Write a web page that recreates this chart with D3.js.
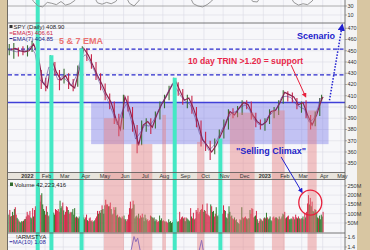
<!DOCTYPE html>
<html>
<head>
<meta charset="utf-8">
<title>SPY daily</title>
<script src="https://cdn.jsdelivr.net/npm/d3@7/dist/d3.min.js"></script>
<style>
  html, body { margin: 0; padding: 0; background: #fff; }
  svg { display: block; font-family: "Liberation Sans", Arial, sans-serif; }
</style>
</head>
<body>
<svg id="chart" width="370" height="250"></svg>
<script>
'use strict';

// ---------- data ----------

// weekly SPY points, one per Friday from 2021-12-10, the last one is 2023-04-04
var closes = [451, 452, 450, 449,  450, 456, 446, 422,  417, 442, 431, 424,  428, 420, 417, 433,
  452, 446, 437, 428, 420,  411, 404, 390, 380,  409, 399, 384, 366,  384, 387, 382, 393, 402,
  409, 417, 424, 415,  406, 408, 399, 387, 371,  366, 360, 366, 375,  384, 396, 393, 399,
  404, 402, 393, 387, 384,  387, 396, 397, 404,  413, 411, 409, 402,  404, 393, 384, 393, 406,  409];
var highs = [456, 457, 453, 454,  455, 459, 455, 433,  426, 446, 440, 433,  434, 430, 425, 437,
  454, 452, 447, 440, 430,  421, 412, 405, 394,  411, 410, 400, 384,  388, 390, 390, 396, 405,
  411, 419, 426, 422,  416, 411, 410, 400, 388,  378, 370, 372, 380,  389, 398, 399, 401,
  406, 406, 405, 395, 389,  390, 398, 400, 406,  415, 414, 413, 408,  405, 406, 393, 396, 408,  411];
var lows = [446, 443, 445, 446,  445, 449, 440, 416,  414, 425, 428, 415,  421, 416, 414, 418,
  432, 441, 434, 424, 415,  406, 398, 385, 374,  380, 396, 378, 359,  366, 378, 376, 381, 389,
  399, 406, 415, 410,  402, 399, 394, 382, 365,  361, 353, 358, 364,  372, 380, 390, 391,
  393, 398, 389, 382, 380,  379, 385, 390, 393,  403, 405, 404, 398,  395, 390, 380, 383, 392,  405];

// top indicator strip, same weeks (only the dips below ~43 show)
var topInd = [55, 55, 55, 55, 55,  40, 30, 28, 38,  36, 33, 40, 32, 35, 42,  55, 55, 55, 55,
  37, 34, 38, 35, 40,  55, 55,  36, 30, 41,  55, 55, 55, 55, 55, 55, 55, 55, 55, 55, 55,
  35, 30, 28, 33, 41,  55, 55, 55, 55, 55, 55, 55, 55,  40, 39,  55, 55, 55, 55, 55, 55, 55,
  38, 32, 35, 33, 41,  55, 55, 55];

// daily volume in millions, Mon..Fri from 2021-12-08 (negative = down day)
var volume = [
  95, -120, 85,
  -88, 110, -92, 125, -135,   -95, 78, 70, -62, 56,   52, 60, -58, 62, -70,
  72, -85, -110, -95, -90,   -115, 80, 75, -130, 85,   -120, -140, -130, -160, -205,
  240, -165, -200, 210, 150,   125, 115, -95, -140, 110,   -90, 85, 95, -140, -150,
  -110, 105, 95, -125, -120,   -115, -125, -110, 170, 130,   140, -160, 118, -95, -110,
  -140, -135, 120, -100, -110,   -105, 110, 125, 95, 130,   -80, 85, -80, 75, 85,
  80, 95, -75, -95, 80,   70, -80, -95, 65, -60,   -75, -80, 60, -65, -55,
  60, 65, -75, -85, -115,   100, -115, 105, 120, -145,   125, 100, 145, -175, -150,
  -150, 140, -140, -160, 125,   -95, 100, -135, -120, 135,   90, -95, 80, 85, 80,
  75, -85, -75, 90, -70,   70, -60, -70, -95, -130,   -165, -125, 130, -170, 150,
  75, 85, 90, -80, 100,   -75, -90, 80, -100, 80,   60, 95, 75, 65, -70,
  -60, -65, -90, 85, 80,   -75, 80, 60, 70, -65,   -55, -60, 90, 65, 75,
  -60, -65, 60, 55, -60,   -55, -50, 70, 55, 60,   50, 55, -65, 50, -70,
  -70, -60, 55, 60, -110,   -70, -80, -85, 75, -80,   60, -80, 75, 70, 65,
  60, -130, 85, -75, -105,   70, -75, -120, -110, -130,   -100, -110, 120, -125, -150,
  110, 120, -115, -100, -155,   -95, -90, -85, 150, -140,   110, 115, -85, -100, 135,
  90, 85, -95, -80, 100,   -85, -100, -145, -120, 115,   80, 75, -100, 140, 110,
  -85, 90, -75, -70, 80,   -65, 70, 55, 50, 45,   -70, 65, 135, -80, 75,
  -80, -85, 75, 70, -75,   75, 120, -100, -130, -125,   -80, 85, 90, -115, 70,
  50, -60, -75, 70, -65,
  60, -75, 80, -75, 105,   -80, 70, 75, 85, 65,   60, -80, -85, -75, 80,
  80, -75, 70, 85, 70,   -75, 85, 100, 95, -110,   -75, 80, -85, -90, 70,
  70, 75, 70, -85, -80,   70, -95, -80, 75, -85,   75, -70, -75, 75, 85,
  -70, -105, 80, -110, -155,   -200, 150, -185, 140, -165,   115, 110, -125, 120, 105,
  80, -75, 90, 70, 95,
  85, -110
];

// 10 day TRIN line
var trinDates = ["2021-12-10", "2022-01-21", "2022-02-25", "2022-03-11", "2022-04-29", "2022-05-13",
  "2022-06-10", "2022-06-14", "2022-06-17", "2022-06-21", "2022-06-23", "2022-06-28", "2022-07-08",
  "2022-08-19", "2022-09-16", "2022-09-26", "2022-09-29", "2022-10-03", "2022-10-14", "2022-11-11",
  "2022-12-16", "2023-01-13", "2023-03-10", "2023-03-17", "2023-04-04"];
var trinVals = [1.0, 1.15, 1.1, 1.2, 1.1, 1.25, 1.22, 1.35, 1.62, 1.51, 1.59, 1.3, 1.1,
  0.9, 1.1, 1.3, 1.54, 1.3, 1.25, 0.95, 1.2, 0.95, 1.2, 1.3, 1.08];

// shaded periods: start, end, top price
var pinkStart = ["2022-05-03", "2022-06-14", "2022-08-01", "2022-09-22", "2022-11-11", "2023-01-16", "2023-03-10"];
var pinkEnd   = ["2022-06-02", "2022-07-15", "2022-08-05", "2022-10-04", "2022-12-20", "2023-02-03", "2023-03-24"];
var pinkTop   = [390, 367, 393, 369, 395, 397, 397];

// TRIN > 1.20 days, and the price where each marker starts (null = full height)
var cyanDays = ["2022-01-20", "2022-02-10", "2022-03-29", "2022-08-18", "2022-10-27"];
var cyanTop  = [null, 446, 452, 426, 372];

var supportLevel = 404;
var dashedLevels = [451.5, 428.5];
var boxFrom = "2022-04-13", boxTo = "2023-04-12", boxLow = 367;

var priceTicks = [350, 360, 370, 380, 390, 400, 410, 420, 430, 440, 450, 460, 470];
var volTicks = [50, 100, 150, 200, 250];
var topTicks = [10, 30];
var trinTicks = [1.4, 1.6];

// ---------- layout ----------
var plotL = 8, plotR = 345;
var topP = [0, 23], mainP = [23, 172.5], bandP = [172.5, 179.5], volP = [179.5, 233], trinP = [233, 250];

var parse = d3.timeParse("%Y-%m-%d");
var svg = d3.select("#chart");

// trading-day axis: count weekdays from a Monday
var origin = new Date(2021, 11, 6);
function bday(d) {
    var n = d3.timeDay.count(origin, d);
    return Math.floor(n / 7) * 5 + Math.min(n % 7, 5);
}
var xIdx = d3.scaleLinear()
    .domain([bday(new Date(2021, 11, 7)), bday(new Date(2023, 4, 7))])
    .range([plotL, plotR]);
function x(d) { return xIdx(bday(typeof d === 'string' ? parse(d) : d)); }

var y = d3.scaleLinear().domain([350, 470]).range([163.25, 28.25]);
var yVol = d3.scaleLinear().domain([0, 250]).range([232.3, 185.8]);
var yTop = d3.scaleLinear().domain([10, 30]).range([15, 6]);
var yTrin = d3.scaleLinear().domain([1.4, 1.6]).range([247, 237.5]);

var weekDates = d3.timeDay.range(parse("2021-12-10"), parse("2023-04-01"), 7);
weekDates.push(parse("2023-04-04"));
var volDates = d3.timeDay.range(parse("2021-12-08"), parse("2023-04-05"))
    .filter(function (d) { return d.getDay() % 6 !== 0; });
var months = d3.timeMonth.range(new Date(2022, 0, 1), new Date(2023, 5, 1));

// ---------- frame ----------
svg.append("rect").attr("width", 370).attr("height", 250).attr("fill", "#d8c6a2");
svg.append("rect").attr("x", plotR).attr("width", 12).attr("height", 250).attr("fill", "#f4f4f4");

var defs = svg.append("defs");
function clip(id, p) {
    defs.append("clipPath").attr("id", id).append("rect")
        .attr("x", plotL).attr("y", p[0]).attr("width", plotR - plotL).attr("height", p[1] - p[0]);
    return "url(#" + id + ")";
}
var clipTop = clip("c-top", topP), clipMain = clip("c-main", mainP),
    clipVol = clip("c-vol", volP), clipTrin = clip("c-trin", trinP),
    clipAll = clip("c-all", [0, 250]);

[topP, mainP, volP, trinP].forEach(function (p) {
    svg.append("rect").attr("x", plotL).attr("y", p[0]).attr("width", plotR - plotL)
        .attr("height", p[1] - p[0]).attr("fill", "#f7f7fa");
});
svg.append("rect").attr("x", plotL).attr("y", bandP[0]).attr("width", plotR - plotL)
    .attr("height", bandP[1] - bandP[0]).attr("fill", "#e8e4dc");

// vertical grid at each month
var grid = svg.append("g").attr("stroke", "#dcdce6").attr("stroke-width", 0.6);
[topP, mainP, volP, trinP].forEach(function (p) {
    grid.selectAll(null).data(months).enter().append("line")
        .attr("x1", function (d) { return x(d) + 0.5; }).attr("x2", function (d) { return x(d) + 0.5; })
        .attr("y1", p[0]).attr("y2", p[1]);
});
grid.selectAll(null).data(priceTicks).enter().append("line")
    .attr("x1", plotL).attr("x2", plotR).attr("y1", y).attr("y2", y);
grid.selectAll(null).data(volTicks).enter().append("line")
    .attr("x1", plotL).attr("x2", plotR).attr("y1", yVol).attr("y2", yVol);
grid.selectAll(null).data(trinTicks).enter().append("line")
    .attr("x1", plotL).attr("x2", plotR).attr("y1", yTrin).attr("y2", yTrin);
grid.append("line").attr("x1", plotL).attr("x2", plotR).attr("y1", yTop(10)).attr("y2", yTop(10));
svg.append("line").attr("x1", plotL).attr("x2", plotR).attr("y1", yTop(30)).attr("y2", yTop(30))
    .attr("stroke", "#9a9a9a").attr("stroke-width", 0.8);

// ---------- volume ----------
svg.append("g").attr("clip-path", clipVol)
    .selectAll("rect").data(volume).enter().append("rect")
    .attr("x", function (d, i) { return x(volDates[i]) - 0.5; })
    .attr("width", 1)
    .attr("y", function (d) { return yVol(Math.abs(d)); })
    .attr("height", function (d) { return yVol(0) - yVol(Math.abs(d)); })
    .attr("fill", function (d) { return d < 0 ? "#d42a4a" : "#2f7a2c"; });

// ---------- shaded box and bands ----------
var main = svg.append("g").attr("clip-path", clipMain);
main.append("rect")
    .attr("x", x(boxFrom)).attr("width", x(boxTo) - x(boxFrom))
    .attr("y", y(supportLevel)).attr("height", y(boxLow) - y(supportLevel))
    .attr("fill", "#7474e8").attr("opacity", 0.4);

var bands = svg.append("g").attr("clip-path", clipAll);
bands.selectAll(".pink").data(pinkStart).enter().append("rect").attr("class", "pink")
    .attr("x", function (d) { return x(d); })
    .attr("width", function (d, i) { return x(pinkEnd[i]) - x(d); })
    .attr("y", function (d, i) { return y(pinkTop[i]); })
    .attr("height", function (d, i) { return 250 - y(pinkTop[i]); })
    .attr("fill", "#e87a7a").attr("opacity", 0.42);
bands.selectAll(".cyan").data(cyanDays).enter().append("rect").attr("class", "cyan")
    .attr("x", function (d) { return x(d) - 1.5; })
    .attr("width", 4)
    .attr("y", function (d, i) { return cyanTop[i] === null ? 0 : y(cyanTop[i]); })
    .attr("height", function (d, i) { return 250 - (cyanTop[i] === null ? 0 : y(cyanTop[i])); })
    .attr("fill", "#44e8c4");

// ---------- levels ----------
main.selectAll(".dash").data(dashedLevels).enter().append("line").attr("class", "dash")
    .attr("x1", plotL).attr("x2", plotR).attr("y1", y).attr("y2", y)
    .attr("stroke", "#2a2acc").attr("stroke-width", 1.2).attr("stroke-dasharray", "4,2.5");
main.append("line").attr("x1", plotL).attr("x2", plotR)
    .attr("y1", y(supportLevel)).attr("y2", y(supportLevel))
    .attr("stroke", "#4040d8").attr("stroke-width", 1.6);

// ---------- price: weekly high-low sticks and the close line ----------
main.selectAll(".stick").data(weekDates).enter().append("line").attr("class", "stick")
    .attr("x1", function (d) { return x(d) - 1.5; })
    .attr("x2", function (d) { return x(d) - 1.5; })
    .attr("y1", function (d, i) { return y(highs[i]); })
    .attr("y2", function (d, i) { return y(lows[i]); })
    .attr("stroke", function (d, i) { return i > 0 && closes[i] < closes[i - 1] ? "#c8264a" : "#3a6e34"; })
    .attr("stroke-width", 1.1);
main.append("path").datum(weekDates)
    .attr("d", d3.line()
        .x(function (d) { return x(d); })
        .y(function (d, i) { return y(closes[i]); }))
    .attr("fill", "none").attr("stroke", "#8e2450").attr("stroke-width", 1.2);
main.append("path").datum(weekDates)
    .attr("d", d3.line()
        .x(function (d) { return x(d) - 3; })
        .y(function (d, i) { return y((highs[i] + lows[i]) / 2); }))
    .attr("fill", "none").attr("stroke", "#5a3a8a").attr("stroke-width", 0.7).attr("opacity", 0.8);

// top strip indicator
svg.append("g").attr("clip-path", clipTop).append("path").datum(weekDates)
    .attr("d", d3.line()
        .x(function (d) { return x(d); })
        .y(function (d, i) { return yTop(topInd[i]); }))
    .attr("fill", "none").attr("stroke", "#8c8c8c").attr("stroke-width", 0.9);

// TRIN
svg.append("g").attr("clip-path", clipTrin).append("path").datum(trinDates)
    .attr("d", d3.line()
        .x(function (d) { return x(d); })
        .y(function (d, i) { return yTrin(trinVals[i]); }))
    .attr("fill", "none").attr("stroke", "#9070b8").attr("stroke-width", 1);

// ---------- panel borders ----------
var border = svg.append("g").attr("stroke", "#555").attr("stroke-width", 0.8).attr("fill", "none");
[topP[1], mainP[1], bandP[1], trinP[0]].forEach(function (v) {
    border.append("line").attr("x1", plotL).attr("x2", plotR).attr("y1", v).attr("y2", v);
});
border.append("line").attr("x1", plotL - 0.5).attr("x2", plotL - 0.5).attr("y1", 0).attr("y2", 250);
border.append("line").attr("x1", plotR).attr("x2", plotR).attr("y1", 0).attr("y2", 250);

// ---------- axis labels ----------
var labels = svg.append("g").attr("font-size", "5.5px").attr("fill", "#333");
function rightAxis(ticks, scale, fmt) {
    ticks.forEach(function (t) {
        labels.append("line").attr("x1", plotR).attr("x2", plotR + 2)
            .attr("y1", scale(t)).attr("y2", scale(t)).attr("stroke", "#666").attr("stroke-width", 0.5);
        labels.append("text").attr("x", plotR + 2.5).attr("y", scale(t)).attr("dy", "0.35em").text(fmt(t));
    });
}
rightAxis(priceTicks, y, String);
rightAxis(volTicks, yVol, function (t) { return t + "M"; });
rightAxis(topTicks, yTop, String);
rightAxis(trinTicks, yTrin, function (t) { return t.toFixed(1); });

labels.selectAll(".mon").data(months).enter().append("text").attr("class", "mon")
    .attr("x", function (d) { return x(d) + 2; })
    .attr("y", (bandP[0] + bandP[1]) / 2).attr("dy", "0.35em")
    .attr("text-anchor", "middle")
    .attr("font-weight", function (d) { return d.getMonth() === 0 ? "bold" : null; })
    .text(function (d) { return d.getMonth() === 0 ? d3.timeFormat("%Y")(d) : d3.timeFormat("%b")(d); });

// ---------- legends ----------
var leg = svg.append("g").attr("font-size", "6px");
leg.append("rect").attr("x", 9.5).attr("y", 25).attr("width", 3).attr("height", 3).attr("fill", "#333");
leg.append("text").attr("x", 13.5).attr("y", 27).attr("dy", "0.35em").attr("fill", "#222").text("SPY (Daily) 408.90");
leg.append("line").attr("x1", 9.5).attr("x2", 12.5).attr("y1", 33).attr("y2", 33).attr("stroke", "#cc2244");
leg.append("text").attr("x", 12.8).attr("y", 33).attr("dy", "0.35em").attr("fill", "#cc2244").text("EMA(5) 406.61");
leg.append("line").attr("x1", 9.5).attr("x2", 12.5).attr("y1", 38.5).attr("y2", 38.5).attr("stroke", "#22228a");
leg.append("text").attr("x", 12.8).attr("y", 38.5).attr("dy", "0.35em").attr("fill", "#22228a").text("EMA(7) 404.85");
leg.append("rect").attr("x", 10).attr("y", 182.5).attr("width", 3).attr("height", 3.5).attr("fill", "#2f6a2c");
leg.append("text").attr("x", 14.5).attr("y", 184.5).attr("dy", "0.35em").attr("fill", "#222").text("Volume 42,223,416");
leg.append("text").attr("x", 16).attr("y", 236.5).attr("dy", "0.35em").attr("fill", "#222").text("!ARMSTYA");
leg.append("line").attr("x1", 9.5).attr("x2", 12.5).attr("y1", 241.7).attr("y2", 241.7).attr("stroke", "#2a2aa0");
leg.append("text").attr("x", 12.8).attr("y", 241.7).attr("dy", "0.35em").attr("fill", "#2a2aa0").text("MA(10) 1.08");

// ---------- annotations ----------
function marker(id, color) {
    defs.append("marker")
        .attr("id", id).attr("viewBox", "0 0 10 10")
        .attr("refX", 8).attr("refY", 5)
        .attr("markerWidth", 5).attr("markerHeight", 5)
        .attr("orient", "auto")
        .append("path").attr("d", "M 0 0 L 10 5 L 0 10 z").attr("fill", color);
}
marker("arr-red", "#e8203c");
marker("arr-blue", "#2020d0");

var ann = svg.append("g").attr("font-weight", "bold").attr("font-size", "9px");
ann.append("text").attr("x", 59).attr("y", 40.7).attr("dy", "0.35em").attr("fill", "#ea7272").text("5 & 7 EMA");
ann.append("text").attr("x", 188).attr("y", 60.7).attr("dy", "0.35em").attr("fill", "#e8284a")
    .attr("font-size", "8.6px").text("10 day TRIN >1.20 = support");
ann.append("text").attr("x", 297).attr("y", 36).attr("dy", "0.35em").attr("fill", "#2222cc").text("Scenario");
ann.append("text").attr("x", 236).attr("y", 151).attr("dy", "0.35em").attr("fill", "#2424c8").text("\"Selling Climax\"");

ann.append("line")
    .attr("x1", x("2023-02-14")).attr("y1", y(437.3))
    .attr("x2", x("2023-03-08")).attr("y2", y(409))
    .attr("stroke", "#e8203c").attr("stroke-width", 1).attr("marker-end", "url(#arr-red)");
ann.append("line")
    .attr("x1", x("2023-01-30")).attr("y1", y(355.6))
    .attr("x2", x("2023-03-02")).attr("y2", yVol(215))
    .attr("stroke", "#2020d0").attr("stroke-width", 1).attr("marker-end", "url(#arr-blue)");
ann.append("line")
    .attr("x1", x("2023-04-13")).attr("y1", y(406))
    .attr("x2", x("2023-05-03")).attr("y2", y(473))
    .attr("stroke", "#2020d0").attr("stroke-width", 1.5).attr("stroke-dasharray", "1.5,1.5")
    .attr("marker-end", "url(#arr-blue)");
ann.append("ellipse")
    .attr("cx", x("2023-03-15")).attr("cy", yVol(160))
    .attr("rx", 11.5).attr("ry", 12.5)
    .attr("fill", "none").attr("stroke", "#e8203c").attr("stroke-width", 1.3);
</script>
</body>
</html>
